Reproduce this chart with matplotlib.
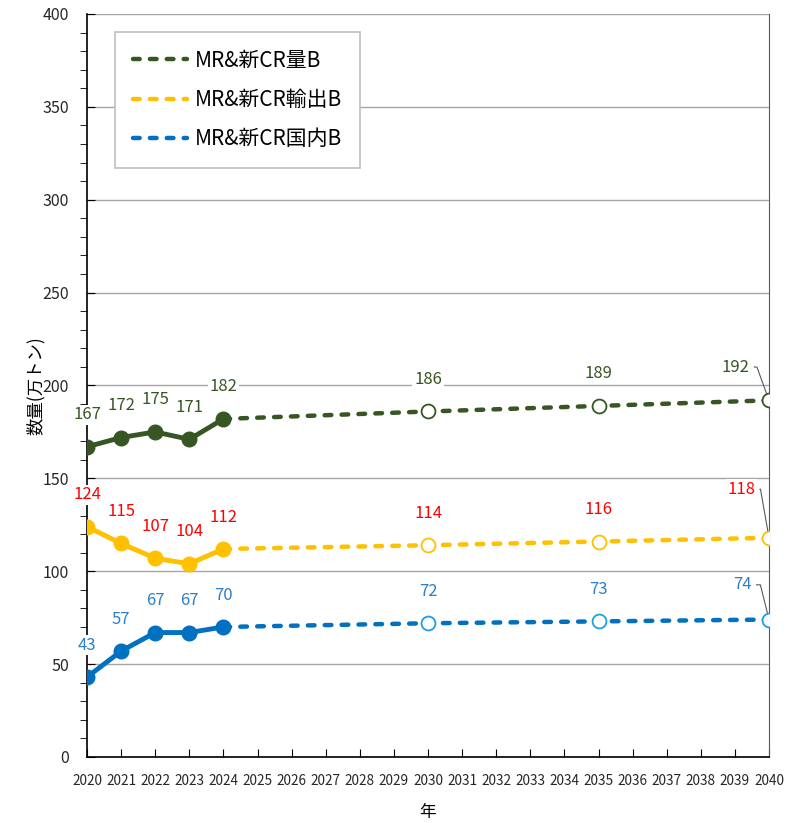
import matplotlib
matplotlib.use("Agg")
import matplotlib.pyplot as plt
from matplotlib.ticker import MultipleLocator

plt.rcParams['font.family'] = ['Noto Sans CJK JP', 'DejaVu Sans']

# actual values 2020-2024
years_act = [2020, 2021, 2022, 2023, 2024]
total_act = [167, 172, 175, 171, 182]
export_act = [124, 115, 107, 104, 112]
domestic_act = [43, 57, 67, 67, 70]

# projection 2024 -> 2040
years_proj = [2024, 2030, 2035, 2040]
total_proj = [182, 186, 189, 192]
export_proj = [112, 114, 116, 118]
domestic_proj = [70, 72, 73, 74]

labels = ['MR&新CR量B', 'MR&新CR輸出B', 'MR&新CR国内B']

GREEN = '#375623'
YELLOW = '#FFC000'
BLUE = '#0070C0'
series = [
    (total_act, total_proj, GREEN, GREEN, GREEN),
    (export_act, export_proj, YELLOW, YELLOW, '#FF0000'),
    (domestic_act, domestic_proj, BLUE, '#1CA0E0', '#2E7FC8'),
]

fig = plt.figure(figsize=(7.99, 8.23), dpi=100)
ax = fig.add_axes([0.1089, 0.0802, 0.8536, 0.9028])

handles = []
for (act, proj, col, ring, tcol), lab in zip(series, labels):
    ax.plot(years_act, act, color=col, lw=3.5, marker='o', ms=10.5,
            solid_capstyle='round', zorder=4)
    h, = ax.plot(years_proj, proj, color=col, lw=3.2, ls=(0, (1.5, 2.3)),
                 dash_capstyle='round', label=lab, zorder=3)
    handles.append(h)
    ax.plot(years_proj[1:], proj[1:], ls='none', marker='o', ms=10,
            mfc='white', mec=ring, mew=1.3, zorder=5)

    bbox = dict(boxstyle='square,pad=0.1', fc='white', ec='none')
    for x, v in zip(years_act + years_proj[1:-1], act + proj[1:-1]):
        ax.annotate(str(v), (x, v), xytext=(0, 23), textcoords='offset points',
                    ha='center', va='center', color=tcol, fontsize=12,
                    bbox=bbox, zorder=6)

# 2040 labels with leader lines
leader = [(192, GREEN, (-24, 24), 110), (118, '#FF0000', (-20, 35), 100),
          (74, '#2E7FC8', (-19, 25), 104)]
for v, tcol, off, ang in leader:
    ax.annotate(str(v), (2040, v), xytext=off, textcoords='offset points',
                ha='center', va='center', color=tcol, fontsize=12,
                bbox=dict(boxstyle='square,pad=0.1', fc='white', ec='none'),
                arrowprops=dict(arrowstyle='-', color='#595959', lw=0.8,
                                relpos=(1, 0.5), shrinkA=2, shrinkB=5,
                                connectionstyle=f'angle,angleA=0,angleB={ang},rad=0'),
                zorder=6)

ax.set_xlim(2020, 2040)
ax.set_ylim(0, 400)
ax.xaxis.set_major_locator(MultipleLocator(1))
ax.yaxis.set_major_locator(MultipleLocator(50))
ax.yaxis.set_minor_locator(MultipleLocator(10))
ax.tick_params(axis='both', direction='in', colors='black',
               labelcolor='#262626')
ax.tick_params(axis='x', length=6, pad=12, labelsize=9.8)
ax.tick_params(axis='y', which='major', length=6, labelsize=11.5, pad=13)
ax.tick_params(axis='y', which='minor', length=5)
ax.grid(axis='y', color='#A6A6A6', lw=1)
ax.set_axisbelow(True)

ax.spines['top'].set_visible(False)
ax.spines['right'].set_color('#595959')
for s in ('left', 'bottom'):
    ax.spines[s].set_color('black')
    ax.spines[s].set_linewidth(1.2)

ax.set_xlabel('年', fontsize=12, labelpad=12)
ax.set_ylabel('数量(万トン)', fontsize=12.5, labelpad=-2)

leg = ax.legend(handles=handles, loc='upper left', bbox_to_anchor=(0.041, 0.9757),
                borderaxespad=0, fontsize=15, handlelength=2.6,
                handletextpad=0.4, labelspacing=0.82, borderpad=0.85,
                fancybox=False, framealpha=1, edgecolor='#BFBFBF')
leg.get_frame().set_linewidth(1.2)

fig.savefig('out.png', dpi=100)
